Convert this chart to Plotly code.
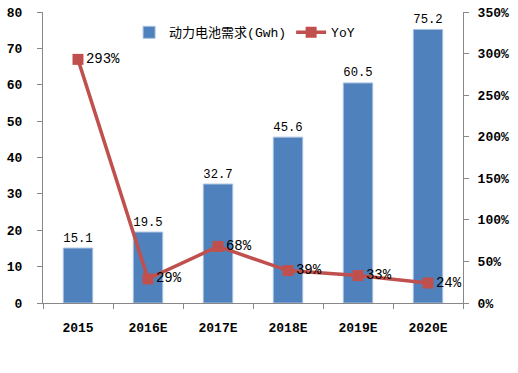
import plotly.graph_objects as go

categories = ["2015", "2016E", "2017E", "2018E", "2019E", "2020E"]
demand = [15.1, 19.5, 32.7, 45.6, 60.5, 75.2]
yoy = [2.93, 0.29, 0.68, 0.39, 0.33, 0.24]
yoy_labels = ["293%", "29%", "68%", "39%", "33%", "24%"]

FONT = "Liberation Mono, Noto Sans CJK SC, monospace"

fig = go.Figure()
fig.add_trace(go.Bar(
    x=categories, y=demand, name="动力电池需求(Gwh)",
    marker=dict(color="#4F81BD", line=dict(color="#A8C1E0", width=1)),
    text=[f"{v:.1f}" for v in demand], textposition="outside",
    textfont=dict(family=FONT, size=14, color="#000000"),
    cliponaxis=False, yaxis="y",
))
fig.add_trace(go.Scatter(
    x=categories, y=yoy, name="YoY", mode="lines+markers+text",
    line=dict(color="#C0504D", width=3.5),
    marker=dict(symbol="square", size=11, color="#C0504D"),
    text=yoy_labels, textposition="middle right",
    textfont=dict(family=FONT, size=14, color="#000000"),
    cliponaxis=False, yaxis="y2",
))

fig.update_layout(
    width=518, height=373,
    margin=dict(l=43, r=55, t=12, b=70),
    paper_bgcolor="white", plot_bgcolor="white",
    font=dict(family=FONT, size=13, color="#000000"),
    bargap=0.58,
    showlegend=True,
    legend=dict(orientation="h", x=0.205, y=0.93, xanchor="left", yanchor="middle",
                bgcolor="rgba(0,0,0,0)", font=dict(family=FONT, size=13),
                itemwidth=30, tracegroupgap=0),
    xaxis=dict(showline=True, linecolor="#888888", linewidth=1, automargin=False,
               ticks="outside", ticklen=5, tickcolor="#888888", tickson="boundaries",
               tickfont=dict(family=FONT, size=13, weight="bold"),
               ticklabelstandoff=12, showgrid=False),
    yaxis=dict(range=[0, 80], dtick=10, showline=True, linecolor="#888888", linewidth=1,
               ticks="outside", ticklen=5, tickcolor="#888888", showgrid=False,
               zeroline=False, automargin=False,
               tickfont=dict(family=FONT, size=13, weight="bold"),
               ticklabelstandoff=12),
    yaxis2=dict(range=[0, 3.5], dtick=0.5, tickformat=".0%", overlaying="y", side="right",
                showline=True, linecolor="#888888", linewidth=1,
                ticks="outside", ticklen=5, tickcolor="#888888", showgrid=False,
                zeroline=False, automargin=False,
                tickfont=dict(family=FONT, size=13, weight="bold"),
                ticklabelstandoff=6),
)

fig.write_html("out.html", config={"displayModeBar": False},
               post_script="document.body.style.margin='0';document.body.style.overflow='hidden';")
